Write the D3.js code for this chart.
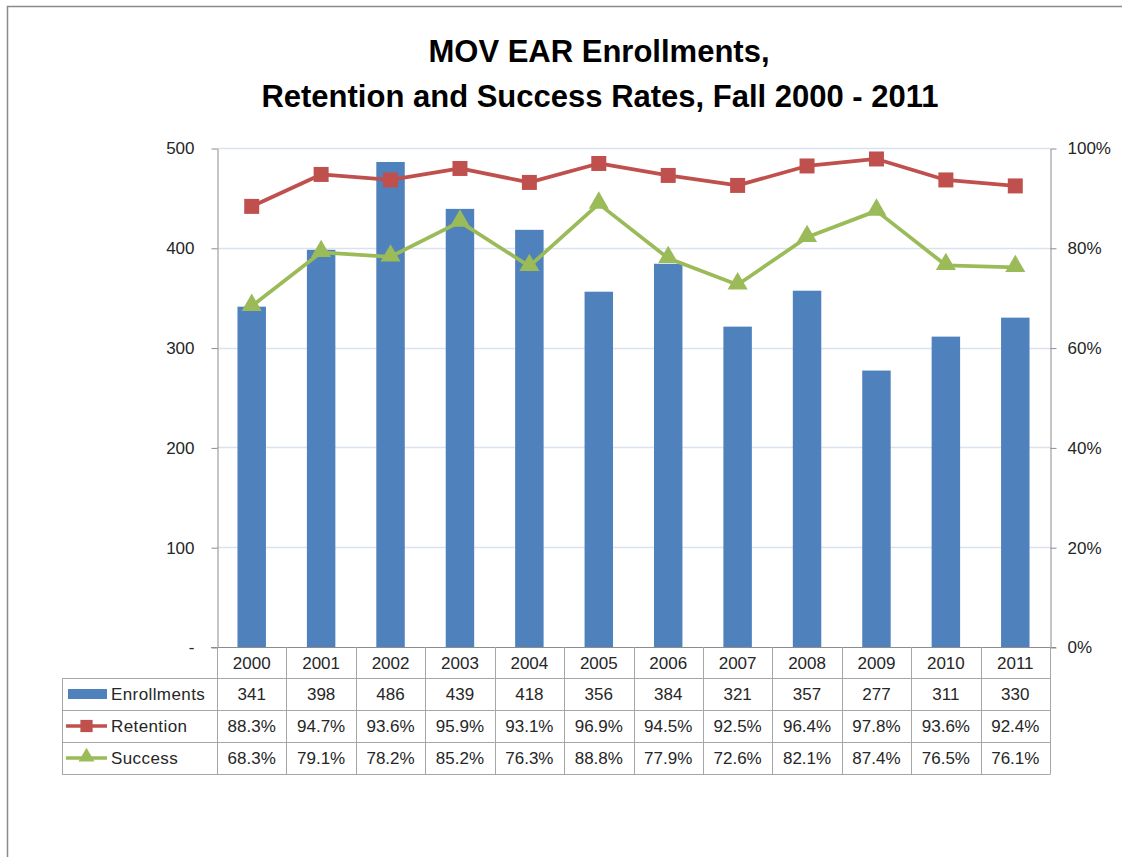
<!DOCTYPE html>
<html>
<head>
<meta charset="utf-8">
<script src="https://cdn.jsdelivr.net/npm/d3@7"></script>
<style>
  body { margin: 0; background: #fff; }
  text { font-family: "Liberation Sans", Arial, sans-serif; }
</style>
</head>
<body>
<div id="chart"></div>
<script>
// chart data
var years = ["2000", "2001", "2002", "2003", "2004", "2005", "2006", "2007", "2008", "2009", "2010", "2011"];
var enrollments = [341, 398, 486, 439, 418, 356, 384, 321, 357, 277, 311, 330];
var retention = [88.3, 94.7, 93.6, 95.9, 93.1, 96.9, 94.5, 92.5, 96.4, 97.8, 93.6, 92.4];
var success = [68.3, 79.1, 78.2, 85.2, 76.3, 88.8, 77.9, 72.6, 82.1, 87.4, 76.5, 76.1];
var leftTicks = [0, 100, 200, 300, 400, 500];
var rightTicks = [0, 20, 40, 60, 80, 100];

var W = 1122, H = 857;
var blue = "#4F81BD", red = "#C0504D", green = "#9BBB59";
var grid = "#D9E2EF", axisCol = "#8C8C8C", tableCol = "#A6A6A6", txt = "#262626";

var plot = {left: 217, right: 1050, top: 148, bottom: 647};
var rowH = [31, 32, 32, 32];   // header, enrollments, retention, success
var legendLeft = 62;

var svg = d3.select("#chart").append("svg").attr("width", W).attr("height", H);

// outer frame
svg.append("rect").attr("x", 7.5).attr("y", 6.5).attr("width", W + 20).attr("height", H + 20)
  .style("fill", "none").style("stroke", "#8a8a8a").style("stroke-width", 1.5);

// title
svg.append("text").attr("x", 599).attr("y", 62).attr("text-anchor", "middle")
  .style("font-size", "31px").style("font-weight", "bold").style("fill", "#000")
  .text("MOV EAR Enrollments,");
svg.append("text").attr("x", 600).attr("y", 107).attr("text-anchor", "middle")
  .style("font-size", "31px").style("font-weight", "bold").style("fill", "#000")
  .text("Retention and Success Rates, Fall 2000 - 2011");

var x = d3.scaleBand().domain(years).range([plot.left, plot.right]).paddingInner(0).paddingOuter(0);
var y = d3.scaleLinear().domain([0, 500]).range([plot.bottom, plot.top]);
var y2 = d3.scaleLinear().domain([0, 100]).range([plot.bottom, plot.top]);

// gridlines
svg.append("g").selectAll("line").data(leftTicks.slice(1)).enter().append("line")
  .attr("x1", plot.left).attr("x2", plot.right)
  .attr("y1", function (d) { return Math.round(y(d)) + 0.5; })
  .attr("y2", function (d) { return Math.round(y(d)) + 0.5; })
  .style("stroke", grid).style("stroke-width", 1.5);

// bars
var bw = x.bandwidth() * 0.41;
svg.append("g").selectAll("rect").data(enrollments).enter().append("rect")
  .attr("x", function (d, i) { return x(years[i]) + x.bandwidth() / 2 - bw / 2; })
  .attr("y", function (d) { return y(d); })
  .attr("width", bw)
  .attr("height", function (d) { return plot.bottom - y(d); })
  .style("fill", blue);

// axes
var yAxis = d3.axisLeft(y).tickValues(leftTicks).tickSize(6).tickSizeOuter(0).tickPadding(17)
  .tickFormat(function (d) { return d === 0 ? "-" : d; });
var gy = svg.append("g").attr("transform", "translate(" + (plot.left + 0.5) + ",0.5)").call(yAxis);

var y2Axis = d3.axisRight(y2).tickValues(rightTicks).tickSize(6).tickSizeOuter(0).tickPadding(11)
  .tickFormat(function (d) { return d + "%"; });
var gy2 = svg.append("g").attr("transform", "translate(" + (plot.right + 0.5) + ",0.5)").call(y2Axis);

[gy, gy2].forEach(function (g) {
  g.select(".domain").style("stroke", axisCol);
  g.selectAll(".tick line").style("stroke", axisCol);
  g.selectAll(".tick text").style("font-size", "17px").style("fill", txt).style("font-family", "Liberation Sans, Arial, sans-serif");
});

// x axis line
svg.append("line").attr("x1", plot.left - 6).attr("x2", plot.right + 6)
  .attr("y1", plot.bottom + 0.5).attr("y2", plot.bottom + 0.5).style("stroke", axisCol);

// lines
var cx = function (d, i) { return x(years[i]) + x.bandwidth() / 2; };
var line = d3.line().x(cx).y(function (d) { return y2(d); });

svg.append("path").datum(retention).attr("d", line)
  .style("fill", "none").style("stroke", red).style("stroke-width", 3.75).style("stroke-linejoin", "round");
svg.append("g").selectAll("path").data(retention).enter().append("path")
  .attr("d", d3.symbol().type(d3.symbolSquare).size(225))
  .attr("transform", function (d, i) { return "translate(" + cx(d, i) + "," + y2(d) + ")"; })
  .style("fill", red);

svg.append("path").datum(success).attr("d", line)
  .style("fill", "none").style("stroke", green).style("stroke-width", 3.75).style("stroke-linejoin", "round");
svg.append("g").selectAll("path").data(success).enter().append("path")
  .attr("d", d3.symbol().type(d3.symbolTriangle).size(175))
  .attr("transform", function (d, i) { return "translate(" + cx(d, i) + "," + (y2(d) - 1) + ")"; })
  .style("fill", green);

// data table
var rowTop = [plot.bottom];
for (var r = 0; r < rowH.length; r++) rowTop.push(rowTop[r] + rowH[r]);
var tableBottom = rowTop[rowTop.length - 1];
var tg = svg.append("g");

// horizontal rules
for (var r = 1; r < rowTop.length; r++) {
  tg.append("line").attr("x1", legendLeft).attr("x2", plot.right)
    .attr("y1", rowTop[r] + 0.5).attr("y2", rowTop[r] + 0.5)
    .style("stroke", tableCol);
}
// vertical rules
var colEdges = years.map(function (yr) { return x(yr); }).concat([plot.right]);
colEdges.forEach(function (ex) {
  tg.append("line").attr("x1", Math.round(ex) + 0.5).attr("x2", Math.round(ex) + 0.5)
    .attr("y1", plot.bottom).attr("y2", tableBottom + 0.5).style("stroke", tableCol);
});
tg.append("line").attr("x1", legendLeft + 0.5).attr("x2", legendLeft + 0.5)
  .attr("y1", rowTop[1]).attr("y2", tableBottom + 0.5).style("stroke", tableCol);

var rows = [
  years,
  enrollments.map(function (d) { return String(d); }),
  retention.map(function (d) { return d.toFixed(1) + "%"; }),
  success.map(function (d) { return d.toFixed(1) + "%"; })
];
rows.forEach(function (vals, r) {
  tg.append("g").selectAll("text").data(vals).enter().append("text")
    .attr("x", function (d, i) { return x(years[i]) + x.bandwidth() / 2; })
    .attr("y", rowTop[r] + rowH[r] / 2 + 6)
    .attr("text-anchor", "middle")
    .style("font-size", "17px").style("fill", txt)
    .text(function (d) { return d; });
});

// legend keys in the table
var names = ["Enrollments", "Retention", "Success"];
names.forEach(function (n, k) {
  var cy = rowTop[k + 1] + rowH[k + 1] / 2;
  if (k === 0) {
    tg.append("rect").attr("x", 68).attr("y", cy - 5).attr("width", 39).attr("height", 10).style("fill", blue);
  } else {
    var col = k === 1 ? red : green;
    tg.append("line").attr("x1", 66).attr("x2", 107).attr("y1", cy).attr("y2", cy)
      .style("stroke", col).style("stroke-width", 3.5);
    tg.append("path")
      .attr("d", d3.symbol().type(k === 1 ? d3.symbolSquare : d3.symbolTriangle).size(k === 1 ? 150 : 110))
      .attr("transform", "translate(86.5," + (k === 1 ? cy : cy - 1) + ")")
      .style("fill", col);
  }
  tg.append("text").attr("x", 111).attr("y", cy + 6)
    .style("font-size", "17px").style("letter-spacing", "0.4px").style("fill", txt).text(n);
});
</script>
</body>
</html>
